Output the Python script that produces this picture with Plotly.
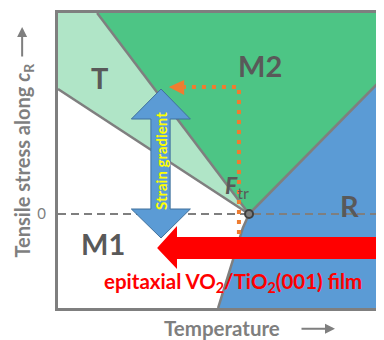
import plotly.graph_objects as go

# ---- data (temperature units 0-100, stress units) ----
T_x = [0, 12.0, 58.6, 0]
T_y = [20.1, 20.1, 0, 12.5]
M2_x = [12.0, 100, 100, 58.6]
M2_y = [20.1, 20.1, 13.7, 0]
R_x = [58.6, 100, 100, 49.1, 56.7]
R_y = [0, 13.7, -9.4, -9.4, -1.4]

TM2_x = [12.0, 58.6]; TM2_y = [20.1, 0]
TM1_x = [0, 58.6]; TM1_y = [12.5, 0]
M2R_x = [58.6, 100]; M2R_y = [0, 13.7]
RM1_x = [58.6, 56.7, 49.1]; RM1_y = [0, -1.4, -9.4]

triple_x = [58.6]; triple_y = [0]

# strain-gradient double arrow
blue_x = [31.6, 40.6, 34.4, 34.4, 40.6, 31.6, 22.5, 28.5, 28.5, 22.5, 31.6]
blue_y = [12.5, 9.5, 9.5, 0.5, 0.5, -2.4, 0.5, 0.5, 9.5, 9.5, 12.5]

# epitaxial film arrow
red_x = [30.4, 36.5, 36.5, 98.5, 98.5, 36.5, 36.5, 30.4]
red_y = [-3.4, -1.2, -2.3, -2.3, -4.5, -4.5, -5.5, -3.4]

# orange dotted path
orange_x = [55.5, 55.5, 38.7]
orange_y = [-3.0, 12.7, 12.7]
ohead_x = [34.0, 38.7, 38.7, 34.0]
ohead_y = [12.7, 13.4, 11.9, 12.7]

labels = ["T", "M2", "M1", "R"]
label_x = [12.8, 62.0, 13.8, 89.3]
label_y = [13.7, 14.9, -2.9, 0.9]

GRAY = "#7f7f7f"
DARK = "#595959"
FONT = "Lato"

fig = go.Figure()

def poly(x, y, color):
    fig.add_trace(go.Scatter(x=x, y=y, fill="toself", fillcolor=color, mode="none",
                             hoverinfo="skip", showlegend=False))

poly(T_x, T_y, "#b0e5c7")
poly(M2_x, M2_y, "#4dc585")
poly(R_x, R_y, "#5b9bd5")

for bx, by in [(TM2_x, TM2_y), (TM1_x, TM1_y), (M2R_x, M2R_y), (RM1_x, RM1_y)]:
    fig.add_trace(go.Scatter(x=bx, y=by, mode="lines", line=dict(color=GRAY, width=2.5),
                             hoverinfo="skip", showlegend=False))

# zero-stress dashed line
fig.add_trace(go.Scatter(x=[0, 100], y=[0, 0], mode="lines",
                         line=dict(color=GRAY, width=2, dash="8px,5px"),
                         hoverinfo="skip", showlegend=False))

# orange dotted path and head
fig.add_trace(go.Scatter(x=orange_x, y=orange_y, mode="lines",
                         line=dict(color="#ed7d31", width=4, dash="4px,6px"),
                         hoverinfo="skip", showlegend=False))
fig.add_trace(go.Scatter(x=ohead_x, y=ohead_y, fill="toself", fillcolor="#ed7d31",
                         mode="none", hoverinfo="skip", showlegend=False))

# blue double arrow
fig.add_trace(go.Scatter(x=blue_x, y=blue_y, fill="toself", fillcolor="#5b9bd5",
                         mode="lines", line=dict(color="#41719c", width=1),
                         hoverinfo="skip", showlegend=False))

# red arrow
fig.add_trace(go.Scatter(x=red_x, y=red_y, fill="toself", fillcolor="#ff0000",
                         mode="none", hoverinfo="skip", showlegend=False))

# triple point
fig.add_trace(go.Scatter(x=triple_x, y=triple_y, mode="markers",
                         marker=dict(size=8, color=GRAY, line=dict(color="#404040", width=2)),
                         hoverinfo="skip", showlegend=False))

ann = []
for t, lx, ly in zip(labels, label_x, label_y):
    ann.append(dict(x=lx, y=ly, xref="x", yref="y", text="<b>%s</b>" % t, showarrow=False,
                    font=dict(family=FONT, size=29, color=DARK)))

ann.append(dict(x=55.0, y=2.8, xref="x", yref="y", text="<b><i>F</i></b><sub>tr</sub>",
                showarrow=False, font=dict(family=FONT, size=23, color=DARK)))
ann.append(dict(x=31.6, y=5.3, xref="x", yref="y", text="<b>Strain gradient</b>",
                textangle=-90, showarrow=False, font=dict(family=FONT, size=15, color="#ffff00")))
ann.append(dict(x=53.7, y=-6.8, xref="x", yref="y",
                text="<b>epitaxial VO<sub>2</sub>/TiO<sub>2</sub>(001) film</b>",
                showarrow=False, font=dict(family=FONT, size=20.5, color="#ff0000")))

# axis titles
ann.append(dict(x=-0.107, y=0.500, xref="paper", yref="paper", xanchor="center", yanchor="middle",
                text="<b>Tensile stress along <i>c</i><sub>R</sub></b>", textangle=-90,
                showarrow=False, font=dict(family=FONT, size=20, color=GRAY)))
ann.append(dict(x=-0.110, y=0.9525, xref="paper", yref="paper", text="", showarrow=True,
                ax=0, ay=31, arrowhead=2, arrowsize=1, arrowwidth=2, arrowcolor=GRAY))
ann.append(dict(x=0.5046, y=-0.0670, xref="paper", yref="paper", xanchor="center", yanchor="middle",
                text="<b>Temperature</b>",
                showarrow=False, font=dict(family=FONT, size=20.5, color=GRAY)))
ann.append(dict(x=0.8497, y=-0.0700, xref="paper", yref="paper", text="", showarrow=True,
                ax=-35, ay=0, arrowhead=2, arrowsize=1, arrowwidth=2, arrowcolor=GRAY))

# page body has an 8px default margin, so the figure is sized to fit the window
fig.update_layout(
    width=376, height=332,
    margin=dict(l=50, r=0, t=5, b=32, autoexpand=False),
    plot_bgcolor="white", paper_bgcolor="white",
    annotations=ann,
    xaxis=dict(range=[0, 100], showgrid=False, zeroline=False, showticklabels=False,
               showline=True, linecolor=GRAY, linewidth=3, mirror=True, fixedrange=True,
               automargin=False),
    yaxis=dict(range=[-9.4, 20.1], showgrid=False, zeroline=False, showline=True,
               linecolor=GRAY, linewidth=3, tickvals=[0], ticktext=["0"], ticks="",
               ticklabelstandoff=6,
               tickfont=dict(family=FONT, size=15, color=GRAY), fixedrange=True,
               automargin=False),
)

fig.write_html("out.html")
